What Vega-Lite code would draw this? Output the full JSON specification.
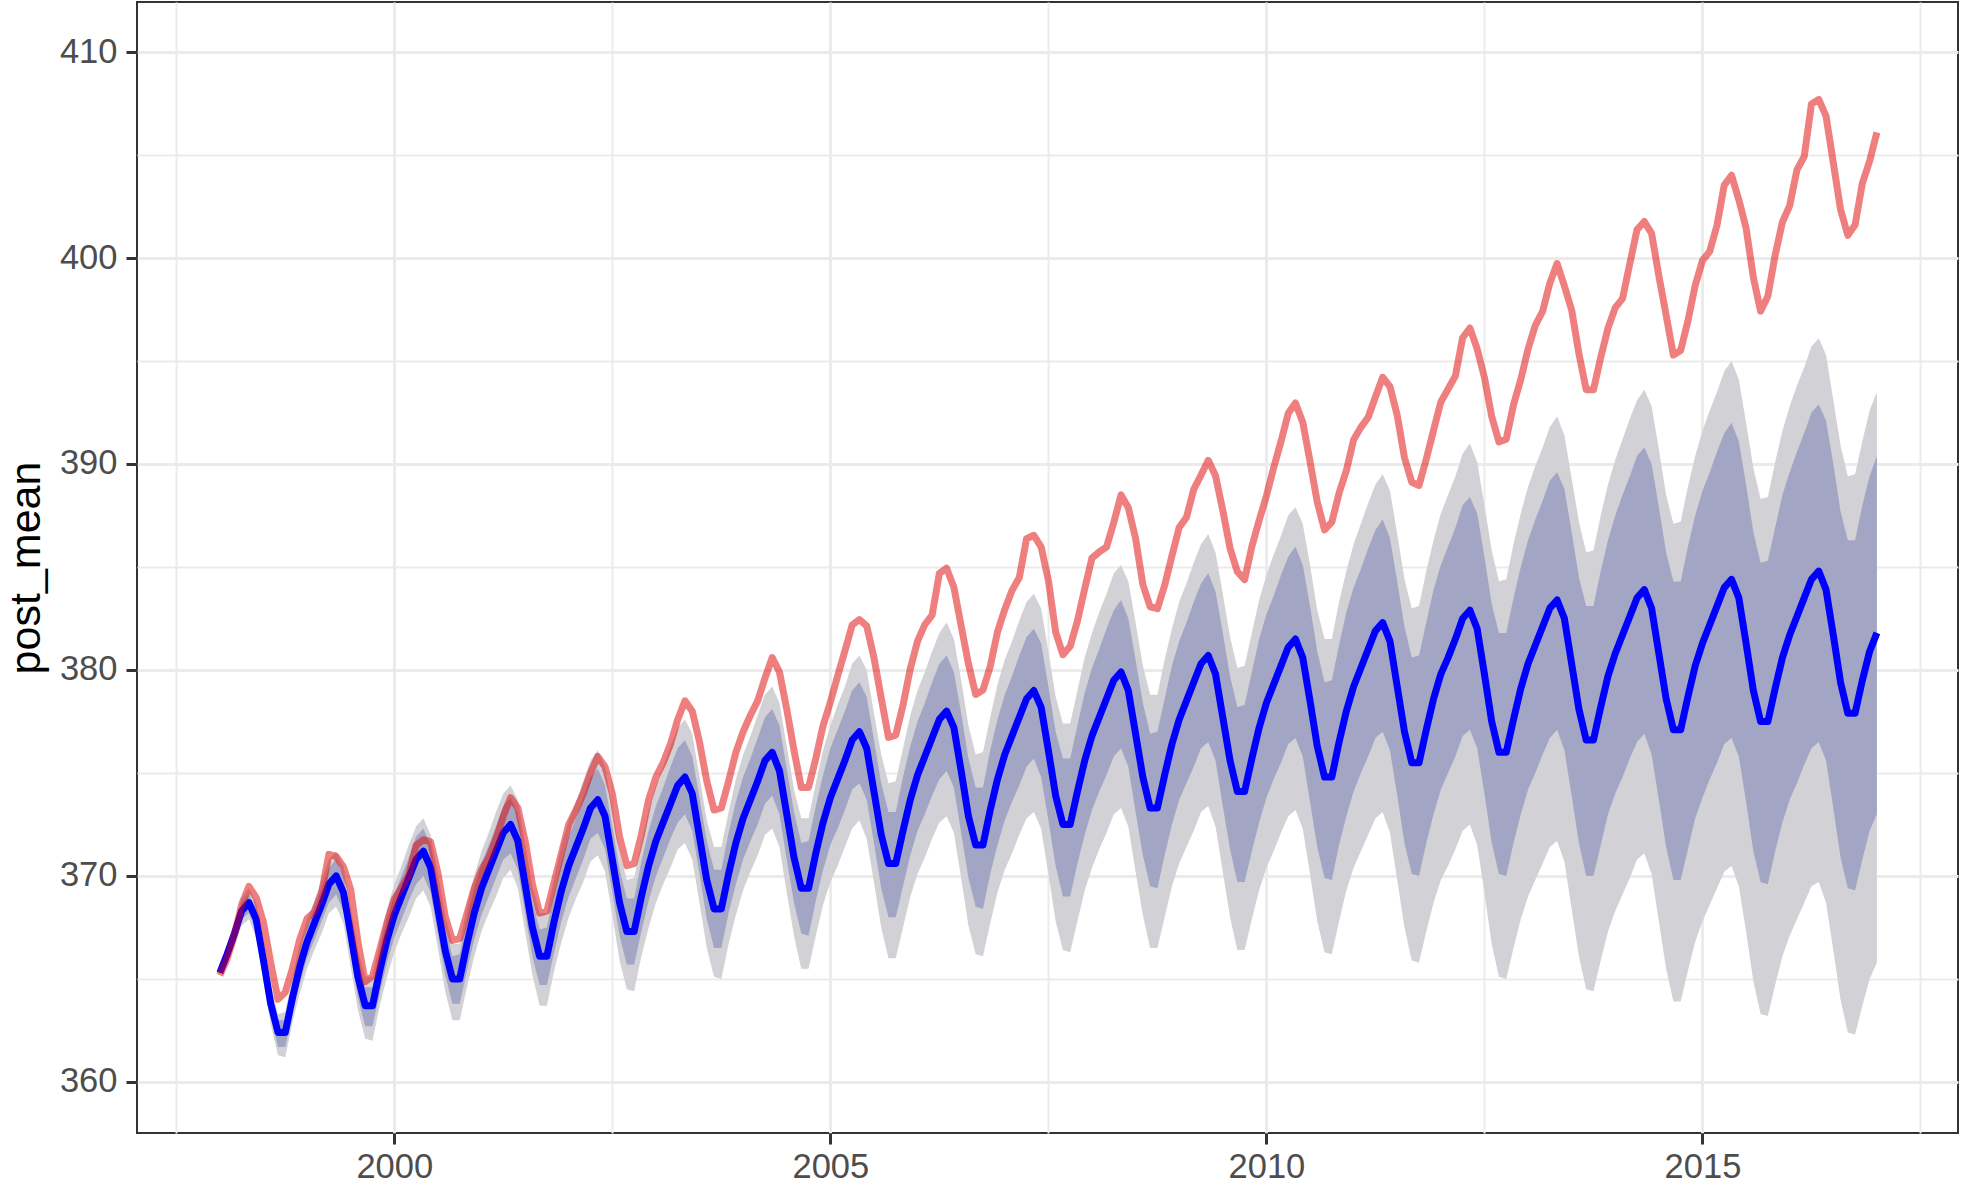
{
"$schema": "https://vega.github.io/schema/vega-lite/v6.json",
"width": 1821, "height": 1131,
"autosize": {"type": "none"},
"padding": {"left": 137, "top": 2, "right": 5, "bottom": 55},
"background": "white",
"config": {"view": {"stroke": "#333333", "strokeWidth": 2}, "font": "Liberation Sans"},
"data": {"values": [
{"t":1998.0,"obs":365.18,"m":365.3,"l95":365.3,"l80":365.3,"h80":365.3,"h95":365.3},
{"t":1998.0833,"obs":365.98,"m":366.2,"l95":365.8,"l80":366.0,"h80":366.4,"h95":366.5},
{"t":1998.1667,"obs":367.13,"m":367.2,"l95":366.6,"l80":366.8,"h80":367.5,"h95":367.7},
{"t":1998.25,"obs":368.61,"m":368.3,"l95":367.6,"l80":367.9,"h80":368.7,"h95":368.9},
{"t":1998.3333,"obs":369.49,"m":368.7,"l95":367.9,"l80":368.2,"h80":369.1,"h95":369.4},
{"t":1998.4167,"obs":368.95,"m":367.9,"l95":367.0,"l80":367.3,"h80":368.4,"h95":368.7},
{"t":1998.5,"obs":367.74,"m":365.9,"l95":364.9,"l80":365.3,"h80":366.4,"h95":366.7},
{"t":1998.5833,"obs":365.79,"m":363.8,"l95":362.8,"l80":363.2,"h80":364.4,"h95":364.7},
{"t":1998.6667,"obs":364.01,"m":362.4,"l95":361.3,"l80":361.7,"h80":363.0,"h95":363.3},
{"t":1998.75,"obs":364.35,"m":362.4,"l95":361.2,"l80":361.7,"h80":363.0,"h95":363.4},
{"t":1998.8333,"obs":365.52,"m":364.1,"l95":362.9,"l80":363.3,"h80":364.8,"h95":365.1},
{"t":1998.9167,"obs":366.93,"m":365.6,"l95":364.3,"l80":364.8,"h80":366.3,"h95":366.7},
{"t":1999.0,"obs":367.93,"m":366.8,"l95":365.5,"l80":366.0,"h80":367.5,"h95":367.9},
{"t":1999.0833,"obs":368.25,"m":367.7,"l95":366.4,"l80":366.9,"h80":368.4,"h95":368.8},
{"t":1999.1667,"obs":369.19,"m":368.6,"l95":367.2,"l80":367.8,"h80":369.4,"h95":369.8},
{"t":1999.25,"obs":371.05,"m":369.6,"l95":368.2,"l80":368.7,"h80":370.4,"h95":370.8},
{"t":1999.3333,"obs":370.95,"m":370.0,"l95":368.5,"l80":369.1,"h80":370.8,"h95":371.2},
{"t":1999.4167,"obs":370.45,"m":369.2,"l95":367.7,"l80":368.3,"h80":370.0,"h95":370.5},
{"t":1999.5,"obs":369.34,"m":367.2,"l95":365.6,"l80":366.2,"h80":368.0,"h95":368.5},
{"t":1999.5833,"obs":366.80,"m":365.1,"l95":363.5,"l80":364.1,"h80":366.0,"h95":366.4},
{"t":1999.6667,"obs":364.87,"m":363.7,"l95":362.1,"l80":362.7,"h80":364.6,"h95":365.1},
{"t":1999.75,"obs":365.13,"m":363.7,"l95":362.0,"l80":362.7,"h80":364.6,"h95":365.1},
{"t":1999.8333,"obs":366.41,"m":365.4,"l95":363.7,"l80":364.3,"h80":366.4,"h95":366.8},
{"t":1999.9167,"obs":367.75,"m":366.9,"l95":365.1,"l80":365.8,"h80":367.9,"h95":368.4},
{"t":2000.0,"obs":368.86,"m":368.1,"l95":366.3,"l80":367.0,"h80":369.1,"h95":369.6},
{"t":2000.0833,"obs":369.44,"m":369.0,"l95":367.2,"l80":367.9,"h80":370.0,"h95":370.5},
{"t":2000.1667,"obs":370.05,"m":369.9,"l95":368.0,"l80":368.8,"h80":370.9,"h95":371.5},
{"t":2000.25,"obs":371.48,"m":370.8,"l95":368.9,"l80":369.6,"h80":371.9,"h95":372.4},
{"t":2000.3333,"obs":371.76,"m":371.2,"l95":369.3,"l80":370.0,"h80":372.3,"h95":372.8},
{"t":2000.4167,"obs":371.65,"m":370.4,"l95":368.5,"l80":369.2,"h80":371.5,"h95":372.0},
{"t":2000.5,"obs":370.15,"m":368.4,"l95":366.5,"l80":367.2,"h80":369.5,"h95":370.1},
{"t":2000.5833,"obs":368.05,"m":366.4,"l95":364.4,"l80":365.2,"h80":367.5,"h95":368.1},
{"t":2000.6667,"obs":366.87,"m":365.0,"l95":363.0,"l80":363.8,"h80":366.1,"h95":366.7},
{"t":2000.75,"obs":366.96,"m":365.0,"l95":363.0,"l80":363.8,"h80":366.2,"h95":366.7},
{"t":2000.8333,"obs":368.17,"m":366.7,"l95":364.6,"l80":365.4,"h80":367.9,"h95":368.5},
{"t":2000.9167,"obs":369.41,"m":368.2,"l95":366.1,"l80":366.9,"h80":369.4,"h95":370.0},
{"t":2001.0,"obs":370.3,"m":369.4,"l95":367.3,"l80":368.1,"h80":370.6,"h95":371.2},
{"t":2001.0833,"obs":370.9,"m":370.3,"l95":368.2,"l80":369.0,"h80":371.5,"h95":372.1},
{"t":2001.1667,"obs":371.8,"m":371.2,"l95":369.0,"l80":369.9,"h80":372.4,"h95":373.1},
{"t":2001.25,"obs":372.9,"m":372.1,"l95":369.9,"l80":370.8,"h80":373.4,"h95":374.0},
{"t":2001.3333,"obs":373.8,"m":372.5,"l95":370.3,"l80":371.1,"h80":373.8,"h95":374.4},
{"t":2001.4167,"obs":373.3,"m":371.7,"l95":369.4,"l80":370.3,"h80":373.0,"h95":373.7},
{"t":2001.5,"obs":371.7,"m":369.6,"l95":367.3,"l80":368.2,"h80":370.9,"h95":371.6},
{"t":2001.5833,"obs":369.6,"m":367.5,"l95":365.2,"l80":366.1,"h80":368.8,"h95":369.5},
{"t":2001.6667,"obs":368.2,"m":366.1,"l95":363.7,"l80":364.7,"h80":367.4,"h95":368.2},
{"t":2001.75,"obs":368.3,"m":366.1,"l95":363.7,"l80":364.7,"h80":367.5,"h95":368.2},
{"t":2001.8333,"obs":369.7,"m":367.8,"l95":365.4,"l80":366.3,"h80":369.2,"h95":369.9},
{"t":2001.9167,"obs":371.1,"m":369.3,"l95":366.8,"l80":367.8,"h80":370.7,"h95":371.5},
{"t":2002.0,"obs":372.5,"m":370.5,"l95":368.0,"l80":369.0,"h80":371.9,"h95":372.7},
{"t":2002.0833,"obs":373.2,"m":371.4,"l95":368.9,"l80":369.9,"h80":372.8,"h95":373.6},
{"t":2002.1667,"obs":374.0,"m":372.3,"l95":369.7,"l80":370.8,"h80":373.8,"h95":374.6},
{"t":2002.25,"obs":375.0,"m":373.3,"l95":370.7,"l80":371.8,"h80":374.8,"h95":375.6},
{"t":2002.3333,"obs":375.8,"m":373.7,"l95":371.0,"l80":372.1,"h80":375.2,"h95":376.1},
{"t":2002.4167,"obs":375.3,"m":372.9,"l95":370.2,"l80":371.3,"h80":374.4,"h95":375.3},
{"t":2002.5,"obs":374.0,"m":370.8,"l95":368.1,"l80":369.2,"h80":372.4,"h95":373.3},
{"t":2002.5833,"obs":371.9,"m":368.7,"l95":365.9,"l80":367.1,"h80":370.3,"h95":371.2},
{"t":2002.6667,"obs":370.5,"m":367.3,"l95":364.5,"l80":365.7,"h80":368.9,"h95":369.8},
{"t":2002.75,"obs":370.6,"m":367.3,"l95":364.4,"l80":365.7,"h80":368.9,"h95":369.9},
{"t":2002.8333,"obs":372.0,"m":369.0,"l95":366.1,"l80":367.3,"h80":370.7,"h95":371.6},
{"t":2002.9167,"obs":373.7,"m":370.5,"l95":367.5,"l80":368.8,"h80":372.2,"h95":373.2},
{"t":2003.0,"obs":374.8,"m":371.7,"l95":368.7,"l80":370.0,"h80":373.4,"h95":374.4},
{"t":2003.0833,"obs":375.5,"m":372.6,"l95":369.6,"l80":370.9,"h80":374.3,"h95":375.3},
{"t":2003.1667,"obs":376.4,"m":373.5,"l95":370.4,"l80":371.8,"h80":375.3,"h95":376.3},
{"t":2003.25,"obs":377.6,"m":374.4,"l95":371.3,"l80":372.6,"h80":376.2,"h95":377.2},
{"t":2003.3333,"obs":378.5,"m":374.8,"l95":371.6,"l80":373.0,"h80":376.6,"h95":377.6},
{"t":2003.4167,"obs":378.0,"m":374.0,"l95":370.8,"l80":372.2,"h80":375.8,"h95":376.9},
{"t":2003.5,"obs":376.5,"m":371.9,"l95":368.7,"l80":370.1,"h80":373.8,"h95":374.8},
{"t":2003.5833,"obs":374.6,"m":369.8,"l95":366.5,"l80":367.9,"h80":371.7,"h95":372.7},
{"t":2003.6667,"obs":373.2,"m":368.4,"l95":365.1,"l80":366.5,"h80":370.3,"h95":371.4},
{"t":2003.75,"obs":373.3,"m":368.4,"l95":365.0,"l80":366.5,"h80":370.3,"h95":371.4},
{"t":2003.8333,"obs":374.6,"m":370.1,"l95":366.7,"l80":368.2,"h80":372.1,"h95":373.1},
{"t":2003.9167,"obs":376.0,"m":371.6,"l95":368.1,"l80":369.6,"h80":373.6,"h95":374.7},
{"t":2004.0,"obs":377.0,"m":372.8,"l95":369.3,"l80":370.8,"h80":374.8,"h95":375.9},
{"t":2004.0833,"obs":377.8,"m":373.7,"l95":370.2,"l80":371.7,"h80":375.7,"h95":376.8},
{"t":2004.1667,"obs":378.5,"m":374.6,"l95":371.0,"l80":372.5,"h80":376.7,"h95":377.8},
{"t":2004.25,"obs":379.6,"m":375.6,"l95":372.0,"l80":373.5,"h80":377.7,"h95":378.8},
{"t":2004.3333,"obs":380.6,"m":376.0,"l95":372.3,"l80":373.9,"h80":378.1,"h95":379.2},
{"t":2004.4167,"obs":379.9,"m":375.1,"l95":371.4,"l80":373.0,"h80":377.3,"h95":378.4},
{"t":2004.5,"obs":378.1,"m":373.0,"l95":369.2,"l80":370.8,"h80":375.2,"h95":376.3},
{"t":2004.5833,"obs":376.1,"m":370.9,"l95":367.1,"l80":368.7,"h80":373.1,"h95":374.2},
{"t":2004.6667,"obs":374.3,"m":369.4,"l95":365.5,"l80":367.2,"h80":371.6,"h95":372.8},
{"t":2004.75,"obs":374.3,"m":369.4,"l95":365.5,"l80":367.1,"h80":371.7,"h95":372.8},
{"t":2004.8333,"obs":375.7,"m":371.1,"l95":367.1,"l80":368.8,"h80":373.4,"h95":374.5},
{"t":2004.9167,"obs":377.3,"m":372.6,"l95":368.6,"l80":370.3,"h80":374.9,"h95":376.1},
{"t":2005.0,"obs":378.43,"m":373.8,"l95":369.7,"l80":371.5,"h80":376.2,"h95":377.3},
{"t":2005.0833,"obs":379.70,"m":374.7,"l95":370.5,"l80":372.3,"h80":377.1,"h95":378.3},
{"t":2005.1667,"obs":380.92,"m":375.6,"l95":371.4,"l80":373.2,"h80":378.0,"h95":379.2},
{"t":2005.25,"obs":382.18,"m":376.6,"l95":372.3,"l80":374.2,"h80":379.0,"h95":380.3},
{"t":2005.3333,"obs":382.45,"m":377.0,"l95":372.7,"l80":374.5,"h80":379.4,"h95":380.7},
{"t":2005.4167,"obs":382.14,"m":376.2,"l95":371.8,"l80":373.7,"h80":378.7,"h95":380.0},
{"t":2005.5,"obs":380.60,"m":374.1,"l95":369.7,"l80":371.6,"h80":376.6,"h95":377.9},
{"t":2005.5833,"obs":378.64,"m":372.0,"l95":367.5,"l80":369.4,"h80":374.5,"h95":375.9},
{"t":2005.6667,"obs":376.73,"m":370.6,"l95":366.0,"l80":368.0,"h80":373.1,"h95":374.5},
{"t":2005.75,"obs":376.84,"m":370.6,"l95":366.0,"l80":368.0,"h80":373.1,"h95":374.6},
{"t":2005.8333,"obs":378.29,"m":372.2,"l95":367.5,"l80":369.5,"h80":374.8,"h95":376.2},
{"t":2005.9167,"obs":380.06,"m":373.7,"l95":369.0,"l80":371.0,"h80":376.3,"h95":377.8},
{"t":2006.0,"obs":381.40,"m":374.9,"l95":370.1,"l80":372.2,"h80":377.5,"h95":379.0},
{"t":2006.0833,"obs":382.20,"m":375.8,"l95":370.9,"l80":373.0,"h80":378.4,"h95":379.9},
{"t":2006.1667,"obs":382.66,"m":376.7,"l95":371.8,"l80":373.9,"h80":379.4,"h95":380.9},
{"t":2006.25,"obs":384.69,"m":377.6,"l95":372.6,"l80":374.7,"h80":380.3,"h95":381.8},
{"t":2006.3333,"obs":384.94,"m":378.0,"l95":372.9,"l80":375.1,"h80":380.7,"h95":382.3},
{"t":2006.4167,"obs":384.01,"m":377.2,"l95":372.1,"l80":374.3,"h80":379.9,"h95":381.5},
{"t":2006.5,"obs":382.14,"m":375.1,"l95":369.9,"l80":372.1,"h80":377.9,"h95":379.5},
{"t":2006.5833,"obs":380.31,"m":372.9,"l95":367.6,"l80":369.9,"h80":375.7,"h95":377.3},
{"t":2006.6667,"obs":378.81,"m":371.5,"l95":366.2,"l80":368.5,"h80":374.3,"h95":375.9},
{"t":2006.75,"obs":379.03,"m":371.5,"l95":366.1,"l80":368.4,"h80":374.3,"h95":376.0},
{"t":2006.8333,"obs":380.17,"m":373.2,"l95":367.7,"l80":370.1,"h80":376.1,"h95":377.7},
{"t":2006.9167,"obs":381.85,"m":374.7,"l95":369.2,"l80":371.5,"h80":377.6,"h95":379.3},
{"t":2007.0,"obs":382.94,"m":375.9,"l95":370.3,"l80":372.7,"h80":378.8,"h95":380.5},
{"t":2007.0833,"obs":383.86,"m":376.8,"l95":371.1,"l80":373.6,"h80":379.7,"h95":381.4},
{"t":2007.1667,"obs":384.49,"m":377.7,"l95":372.0,"l80":374.4,"h80":380.7,"h95":382.4},
{"t":2007.25,"obs":386.37,"m":378.6,"l95":372.8,"l80":375.3,"h80":381.6,"h95":383.3},
{"t":2007.3333,"obs":386.54,"m":379.0,"l95":373.1,"l80":375.7,"h80":382.0,"h95":383.7},
{"t":2007.4167,"obs":385.98,"m":378.2,"l95":372.3,"l80":374.8,"h80":381.3,"h95":383.0},
{"t":2007.5,"obs":384.36,"m":376.1,"l95":370.1,"l80":372.7,"h80":379.2,"h95":380.9},
{"t":2007.5833,"obs":381.85,"m":373.9,"l95":367.8,"l80":370.5,"h80":377.0,"h95":378.7},
{"t":2007.6667,"obs":380.74,"m":372.5,"l95":366.4,"l80":369.0,"h80":375.7,"h95":377.4},
{"t":2007.75,"obs":381.15,"m":372.5,"l95":366.3,"l80":369.0,"h80":375.7,"h95":377.4},
{"t":2007.8333,"obs":382.38,"m":374.1,"l95":367.8,"l80":370.6,"h80":377.3,"h95":379.0},
{"t":2007.9167,"obs":383.94,"m":375.6,"l95":369.3,"l80":372.0,"h80":378.9,"h95":380.6},
{"t":2008.0,"obs":385.44,"m":376.8,"l95":370.4,"l80":373.2,"h80":380.1,"h95":381.8},
{"t":2008.0833,"obs":385.73,"m":377.7,"l95":371.3,"l80":374.1,"h80":381.0,"h95":382.8},
{"t":2008.1667,"obs":385.97,"m":378.6,"l95":372.1,"l80":374.9,"h80":382.0,"h95":383.7},
{"t":2008.25,"obs":387.16,"m":379.5,"l95":373.0,"l80":375.8,"h80":382.9,"h95":384.7},
{"t":2008.3333,"obs":388.50,"m":379.9,"l95":373.3,"l80":376.2,"h80":383.4,"h95":385.1},
{"t":2008.4167,"obs":387.88,"m":379.0,"l95":372.4,"l80":375.3,"h80":382.5,"h95":384.3},
{"t":2008.5,"obs":386.38,"m":376.9,"l95":370.2,"l80":373.1,"h80":380.5,"h95":382.3},
{"t":2008.5833,"obs":384.15,"m":374.8,"l95":368.1,"l80":371.0,"h80":378.4,"h95":380.2},
{"t":2008.6667,"obs":383.07,"m":373.3,"l95":366.5,"l80":369.5,"h80":376.9,"h95":378.8},
{"t":2008.75,"obs":382.98,"m":373.3,"l95":366.5,"l80":369.4,"h80":377.0,"h95":378.8},
{"t":2008.8333,"obs":384.11,"m":374.9,"l95":368.0,"l80":371.0,"h80":378.6,"h95":380.5},
{"t":2008.9167,"obs":385.54,"m":376.4,"l95":369.5,"l80":372.5,"h80":380.2,"h95":382.0},
{"t":2009.0,"obs":386.92,"m":377.6,"l95":370.6,"l80":373.7,"h80":381.4,"h95":383.3},
{"t":2009.0833,"obs":387.41,"m":378.5,"l95":371.4,"l80":374.5,"h80":382.3,"h95":384.2},
{"t":2009.1667,"obs":388.77,"m":379.4,"l95":372.2,"l80":375.3,"h80":383.3,"h95":385.2},
{"t":2009.25,"obs":389.46,"m":380.3,"l95":373.1,"l80":376.2,"h80":384.2,"h95":386.1},
{"t":2009.3333,"obs":390.18,"m":380.7,"l95":373.4,"l80":376.5,"h80":384.7,"h95":386.6},
{"t":2009.4167,"obs":389.43,"m":379.8,"l95":372.4,"l80":375.6,"h80":383.8,"h95":385.7},
{"t":2009.5,"obs":387.74,"m":377.7,"l95":370.2,"l80":373.4,"h80":381.8,"h95":383.7},
{"t":2009.5833,"obs":385.91,"m":375.6,"l95":368.0,"l80":371.3,"h80":379.7,"h95":381.6},
{"t":2009.6667,"obs":384.77,"m":374.1,"l95":366.4,"l80":369.7,"h80":378.2,"h95":380.1},
{"t":2009.75,"obs":384.38,"m":374.1,"l95":366.4,"l80":369.7,"h80":378.3,"h95":380.2},
{"t":2009.8333,"obs":385.99,"m":375.7,"l95":367.9,"l80":371.2,"h80":379.9,"h95":381.8},
{"t":2009.9167,"obs":387.26,"m":377.2,"l95":369.3,"l80":372.6,"h80":381.5,"h95":383.4},
{"t":2010.0,"obs":388.45,"m":378.4,"l95":370.4,"l80":373.8,"h80":382.7,"h95":384.6},
{"t":2010.0833,"obs":389.82,"m":379.3,"l95":371.2,"l80":374.7,"h80":383.6,"h95":385.6},
{"t":2010.1667,"obs":391.08,"m":380.2,"l95":372.1,"l80":375.5,"h80":384.6,"h95":386.5},
{"t":2010.25,"obs":392.46,"m":381.1,"l95":372.9,"l80":376.4,"h80":385.5,"h95":387.5},
{"t":2010.3333,"obs":392.96,"m":381.5,"l95":373.2,"l80":376.7,"h80":386.0,"h95":387.9},
{"t":2010.4167,"obs":392.03,"m":380.6,"l95":372.3,"l80":375.8,"h80":385.1,"h95":387.1},
{"t":2010.5,"obs":390.13,"m":378.5,"l95":370.1,"l80":373.6,"h80":383.1,"h95":385.1},
{"t":2010.5833,"obs":388.15,"m":376.3,"l95":367.8,"l80":371.4,"h80":380.9,"h95":382.9},
{"t":2010.6667,"obs":386.80,"m":374.8,"l95":366.3,"l80":369.9,"h80":379.4,"h95":381.5},
{"t":2010.75,"obs":387.18,"m":374.8,"l95":366.2,"l80":369.8,"h80":379.5,"h95":381.5},
{"t":2010.8333,"obs":388.59,"m":376.5,"l95":367.8,"l80":371.5,"h80":381.2,"h95":383.3},
{"t":2010.9167,"obs":389.68,"m":378.0,"l95":369.3,"l80":372.9,"h80":382.8,"h95":384.8},
{"t":2011.0,"obs":391.18,"m":379.2,"l95":370.4,"l80":374.1,"h80":384.0,"h95":386.1},
{"t":2011.0833,"obs":391.78,"m":380.1,"l95":371.2,"l80":375.0,"h80":384.9,"h95":387.1},
{"t":2011.1667,"obs":392.27,"m":381.0,"l95":372.0,"l80":375.8,"h80":385.9,"h95":388.1},
{"t":2011.25,"obs":393.25,"m":381.9,"l95":372.8,"l80":376.7,"h80":386.8,"h95":389.0},
{"t":2011.3333,"obs":394.21,"m":382.3,"l95":373.1,"l80":377.0,"h80":387.3,"h95":389.5},
{"t":2011.4167,"obs":393.76,"m":381.4,"l95":372.1,"l80":376.1,"h80":386.4,"h95":388.7},
{"t":2011.5,"obs":392.36,"m":379.2,"l95":369.8,"l80":373.9,"h80":384.3,"h95":386.6},
{"t":2011.5833,"obs":390.31,"m":377.0,"l95":367.5,"l80":371.6,"h80":382.1,"h95":384.4},
{"t":2011.6667,"obs":389.11,"m":375.5,"l95":365.9,"l80":370.1,"h80":380.6,"h95":383.0},
{"t":2011.75,"obs":388.96,"m":375.5,"l95":365.8,"l80":370.0,"h80":380.7,"h95":383.1},
{"t":2011.8333,"obs":390.24,"m":377.1,"l95":367.3,"l80":371.6,"h80":382.3,"h95":384.8},
{"t":2011.9167,"obs":391.64,"m":378.6,"l95":368.7,"l80":373.0,"h80":383.9,"h95":386.3},
{"t":2012.0,"obs":393.01,"m":379.8,"l95":369.8,"l80":374.2,"h80":385.1,"h95":387.6},
{"t":2012.0833,"obs":393.64,"m":380.6,"l95":370.5,"l80":375.0,"h80":386.0,"h95":388.5},
{"t":2012.1667,"obs":394.27,"m":381.5,"l95":371.3,"l80":375.8,"h80":386.9,"h95":389.4},
{"t":2012.25,"obs":396.13,"m":382.5,"l95":372.2,"l80":376.8,"h80":388.0,"h95":390.5},
{"t":2012.3333,"obs":396.60,"m":382.9,"l95":372.5,"l80":377.1,"h80":388.4,"h95":391.0},
{"t":2012.4167,"obs":395.59,"m":382.0,"l95":371.5,"l80":376.2,"h80":387.6,"h95":390.1},
{"t":2012.5,"obs":394.20,"m":379.8,"l95":369.2,"l80":374.0,"h80":385.5,"h95":388.0},
{"t":2012.5833,"obs":392.31,"m":377.5,"l95":366.7,"l80":371.6,"h80":383.2,"h95":385.8},
{"t":2012.6667,"obs":391.07,"m":376.0,"l95":365.1,"l80":370.1,"h80":381.8,"h95":384.3},
{"t":2012.75,"obs":391.20,"m":376.0,"l95":365.0,"l80":370.0,"h80":381.8,"h95":384.4},
{"t":2012.8333,"obs":392.88,"m":377.6,"l95":366.5,"l80":371.6,"h80":383.5,"h95":386.1},
{"t":2012.9167,"obs":394.10,"m":379.1,"l95":367.9,"l80":373.0,"h80":385.0,"h95":387.6},
{"t":2013.0,"obs":395.58,"m":380.3,"l95":369.0,"l80":374.2,"h80":386.3,"h95":388.9},
{"t":2013.0833,"obs":396.73,"m":381.2,"l95":369.8,"l80":375.0,"h80":387.3,"h95":389.9},
{"t":2013.1667,"obs":397.41,"m":382.1,"l95":370.6,"l80":375.9,"h80":388.2,"h95":390.8},
{"t":2013.25,"obs":398.78,"m":383.0,"l95":371.4,"l80":376.7,"h80":389.2,"h95":391.8},
{"t":2013.3333,"obs":399.73,"m":383.4,"l95":371.7,"l80":377.1,"h80":389.6,"h95":392.3},
{"t":2013.4167,"obs":398.64,"m":382.5,"l95":370.7,"l80":376.1,"h80":388.8,"h95":391.4},
{"t":2013.5,"obs":397.48,"m":380.3,"l95":368.4,"l80":373.9,"h80":386.7,"h95":389.3},
{"t":2013.5833,"obs":395.36,"m":378.1,"l95":366.1,"l80":371.6,"h80":384.5,"h95":387.2},
{"t":2013.6667,"obs":393.61,"m":376.6,"l95":364.5,"l80":370.0,"h80":383.1,"h95":385.7},
{"t":2013.75,"obs":393.60,"m":376.6,"l95":364.4,"l80":370.0,"h80":383.1,"h95":385.8},
{"t":2013.8333,"obs":395.17,"m":378.2,"l95":365.9,"l80":371.5,"h80":384.8,"h95":387.5},
{"t":2013.9167,"obs":396.60,"m":379.7,"l95":367.3,"l80":373.0,"h80":386.3,"h95":389.0},
{"t":2014.0,"obs":397.59,"m":380.8,"l95":368.3,"l80":374.0,"h80":387.5,"h95":390.2},
{"t":2014.0833,"obs":398.03,"m":381.7,"l95":369.1,"l80":374.8,"h80":388.5,"h95":391.2},
{"t":2014.1667,"obs":399.72,"m":382.6,"l95":369.9,"l80":375.7,"h80":389.4,"h95":392.2},
{"t":2014.25,"obs":401.38,"m":383.5,"l95":370.8,"l80":376.5,"h80":390.4,"h95":393.1},
{"t":2014.3333,"obs":401.77,"m":383.9,"l95":371.1,"l80":376.9,"h80":390.8,"h95":393.6},
{"t":2014.4167,"obs":401.20,"m":383.0,"l95":370.1,"l80":375.9,"h80":390.0,"h95":392.8},
{"t":2014.5,"obs":399.13,"m":380.8,"l95":367.8,"l80":373.7,"h80":387.9,"h95":390.7},
{"t":2014.5833,"obs":397.23,"m":378.6,"l95":365.5,"l80":371.4,"h80":385.7,"h95":388.5},
{"t":2014.6667,"obs":395.29,"m":377.1,"l95":363.9,"l80":369.8,"h80":384.3,"h95":387.1},
{"t":2014.75,"obs":395.51,"m":377.1,"l95":363.9,"l80":369.8,"h80":384.3,"h95":387.2},
{"t":2014.8333,"obs":396.95,"m":378.7,"l95":365.4,"l80":371.3,"h80":386.0,"h95":388.9},
{"t":2014.9167,"obs":398.67,"m":380.2,"l95":366.8,"l80":372.8,"h80":387.5,"h95":390.4},
{"t":2015.0,"obs":399.88,"m":381.3,"l95":367.8,"l80":373.8,"h80":388.7,"h95":391.6},
{"t":2015.0833,"obs":400.32,"m":382.2,"l95":368.6,"l80":374.7,"h80":389.6,"h95":392.6},
{"t":2015.1667,"obs":401.60,"m":383.1,"l95":369.4,"l80":375.5,"h80":390.6,"h95":393.5},
{"t":2015.25,"obs":403.54,"m":384.0,"l95":370.2,"l80":376.4,"h80":391.5,"h95":394.5},
{"t":2015.3333,"obs":404.02,"m":384.4,"l95":370.5,"l80":376.7,"h80":392.0,"h95":395.0},
{"t":2015.4167,"obs":402.83,"m":383.5,"l95":369.5,"l80":375.8,"h80":391.1,"h95":394.1},
{"t":2015.5,"obs":401.46,"m":381.3,"l95":367.3,"l80":373.6,"h80":389.0,"h95":392.0},
{"t":2015.5833,"obs":399.06,"m":379.0,"l95":364.9,"l80":371.2,"h80":386.7,"h95":389.8},
{"t":2015.6667,"obs":397.42,"m":377.5,"l95":363.3,"l80":369.7,"h80":385.2,"h95":388.3},
{"t":2015.75,"obs":398.15,"m":377.5,"l95":363.2,"l80":369.6,"h80":385.3,"h95":388.4},
{"t":2015.8333,"obs":400.14,"m":379.1,"l95":364.7,"l80":371.2,"h80":386.9,"h95":390.1},
{"t":2015.9167,"obs":401.75,"m":380.6,"l95":366.1,"l80":372.6,"h80":388.5,"h95":391.6},
{"t":2016.0,"obs":402.54,"m":381.7,"l95":367.1,"l80":373.7,"h80":389.6,"h95":392.8},
{"t":2016.0833,"obs":404.28,"m":382.6,"l95":367.9,"l80":374.5,"h80":390.6,"h95":393.8},
{"t":2016.1667,"obs":404.93,"m":383.5,"l95":368.7,"l80":375.4,"h80":391.5,"h95":394.7},
{"t":2016.25,"obs":407.48,"m":384.4,"l95":369.5,"l80":376.2,"h80":392.5,"h95":395.7},
{"t":2016.3333,"obs":407.70,"m":384.8,"l95":369.7,"l80":376.5,"h80":392.9,"h95":396.1},
{"t":2016.4167,"obs":406.89,"m":383.9,"l95":368.7,"l80":375.6,"h80":392.1,"h95":395.3},
{"t":2016.5,"obs":404.63,"m":381.7,"l95":366.4,"l80":373.3,"h80":390.0,"h95":393.1},
{"t":2016.5833,"obs":402.36,"m":379.4,"l95":364.0,"l80":370.9,"h80":387.7,"h95":390.9},
{"t":2016.6667,"obs":401.10,"m":377.9,"l95":362.4,"l80":369.4,"h80":386.3,"h95":389.4},
{"t":2016.75,"obs":401.61,"m":377.9,"l95":362.3,"l80":369.3,"h80":386.3,"h95":389.5},
{"t":2016.8333,"obs":403.63,"m":379.5,"l95":363.7,"l80":370.8,"h80":388.0,"h95":391.1},
{"t":2016.9167,"obs":404.70,"m":380.9,"l95":365.0,"l80":372.2,"h80":389.4,"h95":392.6},
{"t":2017.0,"obs":406.10,"m":381.8,"l95":365.8,"l80":373.0,"h80":390.4,"h95":393.5}
]},
"layer": [
{
"mark": {"type": "area", "color": "#D1D1D6", "opacity": 1},
"encoding": {
"x": {"field": "t", "type": "quantitative", "scale": {"domain": [1997.05, 2017.93], "nice": false, "zero": false},
"axis": {"orient": "top", "values": [1997.5, 2002.5, 2007.5, 2012.5, 2017.5], "grid": true, "gridColor": "#EBEBEB", "gridWidth": 2, "labels": false, "ticks": false, "domain": false, "title": null}},
"y": {"field": "l95", "type": "quantitative", "scale": {"domain": [357.52, 412.43], "nice": false, "zero": false},
"axis": {"orient": "right", "values": [365, 375, 385, 395, 405], "grid": true, "gridColor": "#EBEBEB", "gridWidth": 2, "labels": false, "ticks": false, "domain": false, "title": null}},
"y2": {"field": "h95"}
}
},
{
"mark": {"type": "area", "color": "#A3A5C4", "opacity": 1},
"encoding": {
"x": {"field": "t", "type": "quantitative", "scale": {"domain": [1997.05, 2017.93], "nice": false, "zero": false},
"axis": {"orient": "bottom", "values": [2000, 2005, 2010, 2015], "format": "d", "grid": true, "gridColor": "#EBEBEB", "gridWidth": 3, "domain": false, "tickSize": 11, "tickWidth": 3, "tickColor": "#333333", "labelFontSize": 34.5, "labelColor": "#4D4D4D", "labelFont": "Liberation Sans", "labelPadding": 6, "labelFlush": false, "labelOverlap": false, "title": null}},
"y": {"field": "l80", "type": "quantitative", "scale": {"domain": [357.52, 412.43], "nice": false, "zero": false},
"axis": {"orient": "left", "values": [360, 370, 380, 390, 400, 410], "grid": true, "gridColor": "#EBEBEB", "gridWidth": 3, "domain": false, "tickSize": 11, "tickWidth": 3, "tickColor": "#333333", "labelFontSize": 34.5, "labelColor": "#4D4D4D", "labelFont": "Liberation Sans", "labelPadding": 9, "labelFlush": false, "labelOverlap": false,
"title": "post_mean", "titleFontSize": 43, "titleFontWeight": "normal", "titleColor": "#000000", "titleFont": "Liberation Sans", "titlePadding": 11}},
"y2": {"field": "h80"}
}
},
{
"mark": {"type": "line", "color": "#0000FF", "strokeWidth": 7, "strokeJoin": "round", "strokeCap": "butt"},
"encoding": {
"x": {"field": "t", "type": "quantitative", "scale": {"domain": [1997.05, 2017.93], "nice": false, "zero": false}, "axis": null},
"y": {"field": "m", "type": "quantitative", "scale": {"domain": [357.52, 412.43], "nice": false, "zero": false}, "axis": null}
}
},
{
"mark": {"type": "line", "color": "#E00000", "opacity": 0.5, "strokeWidth": 7, "strokeJoin": "round", "strokeCap": "butt"},
"encoding": {
"x": {"field": "t", "type": "quantitative", "scale": {"domain": [1997.05, 2017.93], "nice": false, "zero": false}, "axis": null},
"y": {"field": "obs", "type": "quantitative", "scale": {"domain": [357.52, 412.43], "nice": false, "zero": false}, "axis": null}
}
}
],
"resolve": {"axis": {"x": "independent", "y": "independent"}}
}
